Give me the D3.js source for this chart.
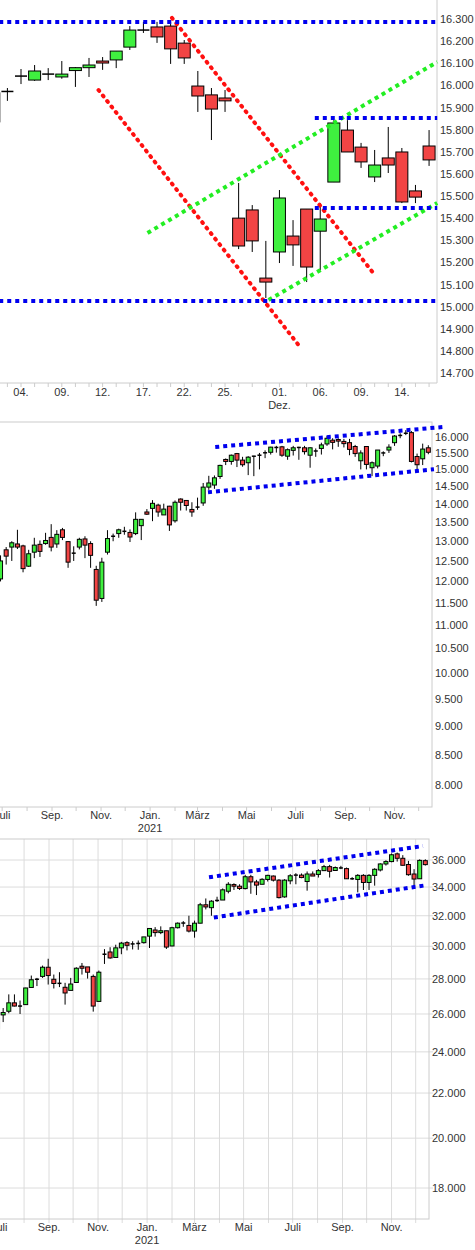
<!DOCTYPE html>
<html>
<head>
<meta charset="utf-8">
<script src="https://cdn.jsdelivr.net/npm/d3@7"></script>
<style>
  body { margin: 0; background: #fff; }
  svg { display: block; font-family: "Liberation Sans", Arial, sans-serif; }
  text { fill: #333; font-size: 11px; }
</style>
</head>
<body>
<svg id="chart" width="475" height="1250"></svg>
<script>
// ---- panel 1: daily candles, DAX Nov/Dez 2021
let p1Days = ["02.11.","03.11.","04.11.","05.11.","08.11.","09.11.","10.11.","11.11.","12.11.","15.11.","16.11.","17.11.","18.11.","19.11.","22.11.","23.11.","24.11.","25.11.","26.11.","29.11.","30.11.","01.12.","02.12.","03.12.","06.12.","07.12.","08.12.","09.12.","10.12.","13.12.","14.12.","15.12.","16.12."];
let p1Open  = [15835,15970,16040,16024,16050,16038,16067,16080,16110,16115,16173,16248,16264,16268,16191,15997,15957,15943,15400,15437,15129,15247,15319,15441,15341,15563,15798,15721,15586,15672,15699,15523,15726];
let p1High  = [15980,15988,16074,16092,16078,16110,16083,16124,16128,16155,16268,16287,16287,16287,16205,16065,15988,15979,15559,15459,15297,15527,15391,15441,15468,15843,15843,15740,15708,15812,15717,15550,15798];
let p1Low   = [15820,15930,16006,16020,16024,16030,15993,16038,16070,16078,16160,16237,16192,16097,16097,15880,15753,15880,15260,15247,15039,15197,15184,15111,15165,15563,15699,15627,15563,15604,15468,15468,15636];
let p1Close = [15966,15975,16044,16065,16052,16051,16080,16092,16101,16155,16250,16252,16219,16165,16124,15952,15893,15930,15274,15297,15111,15491,15279,15179,15396,15830,15699,15654,15640,15640,15473,15495,15663];
let p1TickIdx = [2,5,8,11,14,17,21,24,27,30];
let p1TickLbl = ["04.","09.","12.","17.","22.","25.","01.","06.","09.","14."];
// trend lines: [index, value]
let p1Blue  = [[[0.4,16286],[32.6,16286]],[[0.4,15025],[32.6,15025]],[[23.6,15853],[32.6,15853]],[[23.6,15446],[32.6,15446]]];
let p1Red   = [[[13.1,16305],[27.9,15152]],[[7.7,15979],[22.4,14827]]];
let p1Green = [[[11.3,15333],[32.6,16106]],[[20.2,15030],[32.6,15468]]];

// ---- panel 2: weekly candles, DAX, weeks from 29.06.2020
let p2Start = "2020-06-29";
let p2Open  = [12060,12780,12850,12930,12880,12370,12720,12920,12940,13100,12930,13300,12990,12690,12850,13060,12940,12290,11600,12720,13120,13200,13250,13230,13200,13410,13780,13880,13970,13700,13940,13540,14140,14100,13850,13900,14030,14480,14540,14790,15300,15240,15480,15280,15200,15390,15420,15490,15520,15650,15690,15400,15580,15650,15660,15430,15550,15640,15780,15900,15920,15860,15820,15700,15260,15700,15050,15100,15490,15590,15820,16030,16100,16140,15390,15320,15660];
let p2High  = [12640,12850,13000,13300,12910,12780,13090,13020,13220,13450,13290,13350,13000,12870,13090,13130,13000,12380,12580,13290,13200,13330,13380,13310,13770,13580,13860,14110,14010,14010,13950,14100,14160,14110,14050,14180,14600,14810,14820,15140,15330,15450,15500,15380,15400,15410,15500,15580,15690,15720,15720,15640,15720,15690,15720,15670,15640,15820,16040,15960,15960,15940,15940,15750,15580,15690,15240,15580,15550,15770,16060,16120,16220,16190,15480,15790,15740];
let p2Low   = [12000,12410,12500,12800,12220,12350,12570,12600,12910,12740,12830,13030,12330,12500,12790,12570,12330,11430,11520,12660,13000,13090,13170,12980,13160,13030,13700,13530,13650,13700,13270,13490,13820,13820,13650,13840,13950,14400,14430,14720,15130,15140,15070,15080,14830,14800,15000,15340,15450,15510,15380,15290,15420,15290,15450,15050,15380,15450,15720,15610,15690,15670,15430,15380,15000,15000,14800,15030,15400,15500,15720,15960,16060,15210,15000,15130,15460];
let p2Close = [12500,12620,12960,12850,12310,12680,12900,12740,13020,12850,13180,13100,12470,12700,13050,12900,12640,11560,12470,13070,13140,13300,13270,13110,13580,13580,13720,14020,13780,13860,13430,14050,14050,13960,13780,13930,14480,14600,14750,15120,15240,15430,15280,15140,15370,15410,15440,15520,15680,15690,15430,15600,15660,15690,15540,15660,15570,15750,15960,15830,15870,15790,15610,15480,15500,15150,15200,15590,15510,15680,16030,16070,16140,15240,15140,15620,15520];
let p2Ticks = [8000,8500,9000,9500,10000,10500,11000,11500,12000,12500,13000,13500,14000,14500,15000,15500,16000];
let p2Channel = [[["2021-03-23",15684],["2021-12-31",16322]],[["2021-03-14",14332],["2021-12-20",15004]]];

// ---- panel 3: weekly candles, Dow Jones, weeks from 29.06.2020
let p3Start = "2020-06-29";
let p3Open  = [25190,25950,26150,26620,26430,26520,27500,27970,28150,28700,27980,27730,27510,27330,27790,28760,28720,28150,26700,29480,29640,29300,29900,30230,30140,30170,30230,30650,31050,30880,31000,30020,31200,31500,31350,30980,31500,32750,32550,33040,33080,33700,34180,34060,33890,34750,34370,34200,34550,34800,34500,33300,34450,34860,34870,34400,34950,34920,35200,35500,35210,35390,35350,34590,34550,34850,34330,34850,35250,35700,35880,36470,36130,35660,34950,34600,35950];
let p3High  = [25910,26330,27100,27100,26750,27480,28200,28060,28800,29220,28260,28400,27770,28060,28700,28960,28700,28260,28500,29820,29940,30100,30280,30320,30320,30370,30600,31150,31240,31290,31000,31260,31550,31640,32000,31670,32880,33190,33070,33310,33900,34350,34270,34200,34890,34890,34520,34640,34890,34840,34570,34570,34940,35010,34990,35140,35140,35310,35630,35630,35510,35560,35430,34720,34940,34940,34940,35380,35750,35980,36500,36570,36370,35930,35310,36050,36050];
let p3Low   = [25000,25560,26040,26420,26000,26520,27500,27580,28060,27670,27440,27520,26520,27340,27770,28260,28020,26130,26700,28900,29220,29300,29500,29740,29800,29780,30170,29890,30620,30780,29830,30000,31150,31260,30890,30550,31490,32430,32000,32950,33140,33550,33790,33790,33830,33520,33430,34200,34400,34400,33190,33240,34200,34200,34640,33740,34840,34690,35190,34690,35190,35310,34590,34520,33620,33790,33790,34100,35140,35580,35830,35880,35580,34820,34020,34590,35580];
let p3Close = [25800,26080,26620,26440,26450,27470,27950,27990,28700,28200,27730,27750,27180,27700,28640,28640,28400,26440,28400,29520,29270,29900,30200,30060,30160,30190,30600,31150,30880,31000,29950,31200,31500,31520,30980,31500,32750,32600,33000,33060,33800,34200,34060,33900,34750,34370,34140,34560,34850,34500,33250,34500,34820,34880,34690,34950,34800,35200,35500,35150,35430,35410,34600,34610,34850,34330,34850,35300,35700,35880,36400,36130,35600,34900,34580,35970,35650];
let p3Ticks = [18000,20000,22000,24000,26000,28000,30000,32000,34000,36000];
let p3Channel = [[["2021-03-19",34710],["2021-12-10",37080]],[["2021-03-25",31880],["2021-12-15",34140]]];

let monthNames = ["Jan.","Feb.","März","Apr.","Mai","Juni","Juli","Aug.","Sep.","Okt.","Nov.","Dez."];
let labelMonths = [6,8,10,0,2,4]; // every other month gets a label

const GREEN = "#3ff03f", RED = "#f24444", GRID = "#dcdcdc";
let svg = d3.select("#chart");
let fmt = v => d3.format(",")(v).replace(/,/g, ".");
let parse = d3.timeParse("%Y-%m-%d");

function drawCandles(g, xs, y, o, h, l, c, w) {
  for (let i = 0; i < o.length; i++) {
    let x = xs[i];
    g.append("line").attr("x1", x).attr("x2", x)
      .attr("y1", y(h[i])).attr("y2", y(l[i]))
      .attr("stroke", "#000").attr("stroke-width", 1);
    let top = y(Math.max(o[i], c[i])), bot = y(Math.min(o[i], c[i]));
    let ht = bot - top;
    if (ht < 1.5) {
      g.append("line").attr("x1", x - w / 2).attr("x2", x + w / 2)
        .attr("y1", (top + bot) / 2).attr("y2", (top + bot) / 2)
        .attr("stroke", "#000").attr("stroke-width", 1.5);
    } else {
      g.append("rect").attr("x", x - w / 2).attr("y", top)
        .attr("width", w).attr("height", ht)
        .attr("fill", c[i] >= o[i] ? GREEN : RED)
        .attr("stroke", "#000").attr("stroke-width", 1);
    }
  }
}

function drawDotted(g, pts, x, y, color, cap) {
  g.append("line")
    .attr("x1", x(pts[0][0])).attr("y1", y(pts[0][1]))
    .attr("x2", x(pts[1][0])).attr("y2", y(pts[1][1]))
    .attr("stroke", color).attr("stroke-width", 4)
    .attr("stroke-dasharray", cap === "round" ? "1 6" : "4 4")
    .attr("stroke-linecap", cap === "round" ? "round" : "butt");
}

// ---------- panel 1
{
  let g = svg.append("g");
  let x = d3.scaleLinear().domain([0.456, 32.51]).range([0, 436]);
  let y = d3.scaleLinear().domain([14700, 16300]).range([373, 19]);
  g.append("line").attr("x1", 437).attr("x2", 437).attr("y1", 0).attr("y2", 383).attr("stroke", "#ccc");
  g.append("line").attr("x1", 0).attr("x2", 437).attr("y1", 383).attr("y2", 383).attr("stroke", "#ccc");
  d3.range(14700, 16301, 100).forEach(v => {
    g.append("text").attr("x", 440).attr("y", y(v) + 4).text(fmt(v));
  });
  p1Days.forEach((d, i) => {
    g.append("line").attr("x1", x(i)).attr("x2", x(i)).attr("y1", 383).attr("y2", 387).attr("stroke", "#ccc");
  });
  p1TickIdx.forEach((t, k) => {
    g.append("text").attr("x", x(t)).attr("y", 396).attr("text-anchor", "middle").text(p1TickLbl[k]);
  });
  g.append("text").attr("x", x(21)).attr("y", 409).attr("text-anchor", "middle").text("Dez.");
  drawCandles(g, p1Days.map((d, i) => x(i)), y, p1Open, p1High, p1Low, p1Close, 12);
  p1Red.forEach(p => drawDotted(g, p, x, y, "#ff1010", "round"));
  p1Green.forEach(p => drawDotted(g, p, x, y, "#22ee22", "square"));
  p1Blue.forEach(p => drawDotted(g, p, x, y, "#0000ee", "square"));
}

// ---------- weekly panels
function weeklyPanel(opt) {
  let g = svg.append("g");
  let x = d3.scaleTime().domain([parse("2020-09-01"), parse("2021-09-01")]).range([opt.x0, opt.x0 + 293.5]);
  let y = d3.scaleLog().domain([opt.vRef, opt.vTop]).range([opt.yRef, opt.yTop]);
  let start = parse(opt.start);
  let months = d3.timeMonth.range(parse("2020-07-01"), parse("2022-01-01"));
  if (opt.grid) {
    months.forEach(m => g.append("line").attr("x1", x(m)).attr("x2", x(m))
      .attr("y1", opt.top).attr("y2", opt.bottom + 4).attr("stroke", GRID));
    opt.ticks.forEach(v => g.append("line").attr("x1", 0).attr("x2", opt.right + 4)
      .attr("y1", y(v)).attr("y2", y(v)).attr("stroke", GRID));
  } else {
    months.forEach(m => g.append("line").attr("x1", x(m)).attr("x2", x(m))
      .attr("y1", opt.bottom).attr("y2", opt.bottom + 4).attr("stroke", "#ccc"));
  }
  g.append("rect").attr("x", -1).attr("y", opt.top).attr("width", opt.right + 1)
    .attr("height", opt.bottom - opt.top).attr("fill", "none").attr("stroke", "#ccc");
  opt.ticks.forEach(v => g.append("text").attr("x", opt.right + 3).attr("y", y(v) + 4).text(fmt(v)));
  months.filter(m => labelMonths.includes(m.getMonth())).forEach(m => {
    g.append("text").attr("x", x(m)).attr("y", opt.bottom + 12).attr("text-anchor", "middle")
      .text(monthNames[m.getMonth()]);
    if (m.getMonth() === 0) {
      g.append("text").attr("x", x(m)).attr("y", opt.bottom + 25).attr("text-anchor", "middle").text(m.getFullYear());
    }
  });
  let xs = opt.o.map((v, i) => x(d3.timeDay.offset(start, 7 * i)));
  drawCandles(g, xs, y, opt.o, opt.h, opt.l, opt.c, 4);
  opt.channel.forEach(p => drawDotted(g, [[parse(p[0][0]), p[0][1]], [parse(p[1][0]), p[1][1]]], x, y, "#0000ee", "square"));
}

weeklyPanel({ x0: 52, top: 422, bottom: 807, right: 432, vRef: 8000, yRef: 785, vTop: 16000, yTop: 437,
  start: p2Start, o: p2Open, h: p2High, l: p2Low, c: p2Close, ticks: p2Ticks, channel: p2Channel, grid: false });
weeklyPanel({ x0: 49, top: 839, bottom: 1219, right: 429, vRef: 18000, yRef: 1188, vTop: 36000, yTop: 860,
  start: p3Start, o: p3Open, h: p3High, l: p3Low, c: p3Close, ticks: p3Ticks, channel: p3Channel, grid: true });
</script>
</body>
</html>
